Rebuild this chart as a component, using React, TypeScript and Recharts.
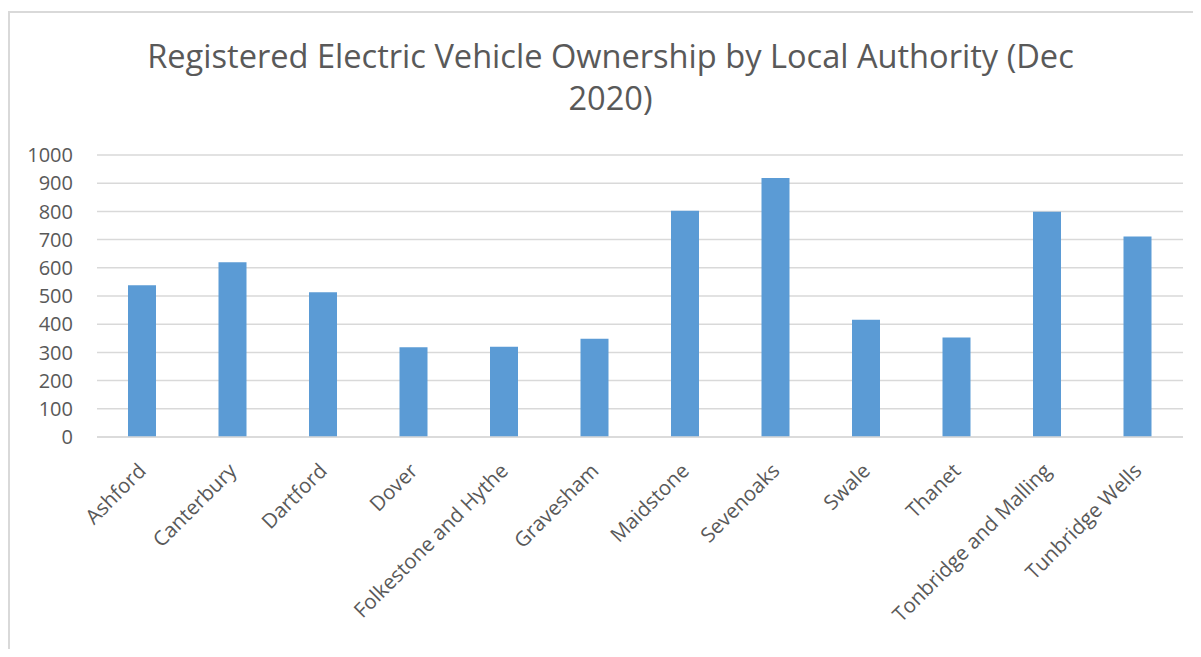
import { Bar, BarChart, CartesianGrid, XAxis, YAxis } from "recharts";

const authorities = [
  "Ashford",
  "Canterbury",
  "Dartford",
  "Dover",
  "Folkestone and Hythe",
  "Gravesham",
  "Maidstone",
  "Sevenoaks",
  "Swale",
  "Thanet",
  "Tonbridge and Malling",
  "Tunbridge Wells",
];
const evCounts = [538, 620, 513, 318, 320, 348, 802, 918, 416, 353, 799, 711];
const yTicks = [0, 100, 200, 300, 400, 500, 600, 700, 800, 900, 1000];

const data = authorities.map((name, i) => ({ name, value: evCounts[i] }));

const FONT = "'Open Sans', 'DejaVu Sans', sans-serif";
const TEXT = "#595959";

// rotated category label, end of text sits just under the bar
function AngledTick({ x, y, payload }: any) {
  return (
    <g transform={`translate(${x},${y + 28})`}>
      <text
        x={0}
        y={0}
        dy="0.35em"
        textAnchor="end"
        transform="rotate(-45)"
        fill={TEXT}
        fontSize={20.5}
        fontFamily={FONT}
      >
        {payload.value}
      </text>
    </g>
  );
}

export default function App() {
  return (
    <div style={{ position: "relative", width: 1193, height: 641, overflow: "hidden", background: "#fff" }}>
      {/* chart frame, only top and left edges visible */}
      <div
        style={{
          position: "absolute",
          top: 3,
          left: 0,
          width: 1300,
          height: 800,
          borderTop: "2px solid #d9d9d9",
          borderLeft: "2px solid #d9d9d9",
        }}
      />
      <div
        style={{
          position: "absolute",
          top: 27,
          left: 6,
          width: 1193,
          textAlign: "center",
          fontFamily: FONT,
          fontSize: 32.6,
          lineHeight: "42px",
          color: TEXT,
        }}
      >
        <div>Registered Electric Vehicle Ownership by Local Authority (Dec</div>
        <div>2020)</div>
      </div>
      <div style={{ position: "absolute", top: 0, left: 0 }}>
        <BarChart
          width={1193}
          height={641}
          data={data}
          margin={{ top: 147, right: 18, bottom: 62, left: 29 }}
        >
          <CartesianGrid vertical={false} stroke="#d9d9d9" strokeWidth={1.5} />
          <XAxis
            dataKey="name"
            interval={0}
            height={150}
            tickLine={false}
            tickSize={0}
            axisLine={{ stroke: "#d9d9d9", strokeWidth: 1.5 }}
            tick={<AngledTick />}
          />
          <YAxis
            domain={[0, 1000]}
            ticks={yTicks}
            width={60}
            tickLine={false}
            axisLine={false}
            tickSize={0}
            tickMargin={24}
            tick={{ fill: TEXT, fontSize: 20, fontFamily: FONT }}
          />
          <Bar dataKey="value" fill="#5b9bd5" barSize={28} isAnimationActive={false} />
        </BarChart>
      </div>
    </div>
  );
}
